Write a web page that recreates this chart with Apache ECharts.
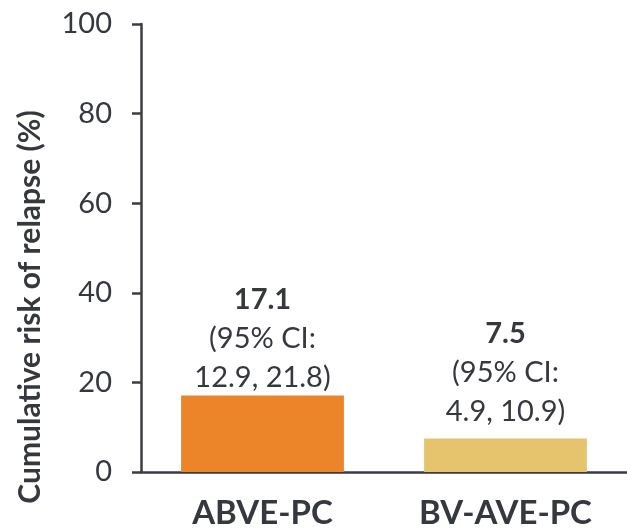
<!DOCTYPE html>
<html><head><meta charset="utf-8">
<script src="https://cdn.jsdelivr.net/npm/echarts@6/dist/echarts.min.js"></script>
<style>html,body{margin:0;padding:0;background:#fff}#c{width:627px;height:528px}</style>
</head><body><div id="c"></div>
<script>
var categories = ['ABVE-PC', 'BV-AVE-PC'];
var values = [17.1, 7.5];
var ciLow = [12.9, 4.9];
var ciHigh = [21.8, 10.9];
var yTicks = [0, 20, 40, 60, 80, 100];
var colors = ['#EC8429', '#E5C46D'];
var labelDist = [-2, 7];

var FONT = 'Lato, "DejaVu Sans", sans-serif';
var TXT = '#35383e';
var chart = echarts.init(document.getElementById('c'), null, {renderer: 'canvas'});
chart.setOption({
  animation: false,
  grid: {left: 141, right: 0, top: 24, bottom: 56, containLabel: false, outerBoundsMode: 'none'},
  xAxis: {
    type: 'category', data: categories,
    axisLine: {lineStyle: {color: '#3a3d44', width: 2.5}},
    axisTick: {show: false},
    axisLabel: {color: TXT, fontFamily: FONT, fontWeight: 'bold', fontSize: 33, margin: 25}
  },
  yAxis: {
    type: 'value', min: yTicks[0], max: yTicks[yTicks.length - 1], interval: 20,
    axisLine: {show: true, lineStyle: {color: '#3a3d44', width: 2.5}},
    axisTick: {show: true, length: 9, lineStyle: {color: '#3a3d44', width: 2.5}},
    splitLine: {show: false},
    axisLabel: {color: TXT, fontFamily: FONT, fontSize: 29, margin: 29}
  },
  graphic: [{
    type: 'text', x: 30, y: 307, rotation: Math.PI / 2,
    style: {text: 'Cumulative risk of relapse (%)', fill: TXT, font: 'bold 30px ' + FONT,
            textAlign: 'center', textVerticalAlign: 'middle'}
  }],
  series: [{
    type: 'bar', barWidth: '67%',
    data: values.map(function (v, i) {
      return {
        value: v,
        itemStyle: {color: colors[i]},
        label: {
          show: true, position: 'top', distance: labelDist[i],
          formatter: '{v|' + v.toFixed(1) + '}\n{t|(95% CI:}\n{t|' + ciLow[i].toFixed(1) + ', ' + ciHigh[i].toFixed(1) + ')}',
          rich: {
            v: {fontFamily: FONT, fontWeight: 'bold', fontSize: 29, color: TXT, lineHeight: 39, align: 'center'},
            t: {fontFamily: FONT, fontSize: 29, color: TXT, lineHeight: 39, align: 'center'}
          }
        }
      };
    })
  }]
});
</script></body></html>
